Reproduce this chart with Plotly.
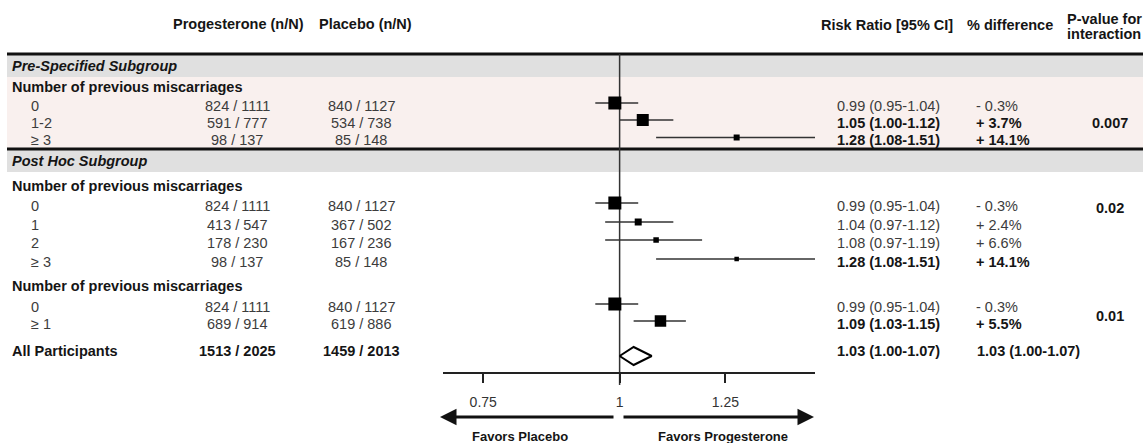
import math
import plotly.graph_objects as go

W, H = 1143, 443

# ---------------- data ----------------
col_headers = ["Progesterone (n/N)", "Placebo (n/N)", "Risk Ratio [95% CI]", "% difference"]
pval_header = ["P-value for", "interaction"]
section_labels = ["Pre-Specified Subgroup", "Post Hoc Subgroup"]
group_label = "Number of previous miscarriages"

row_labels = ["0", "1-2", "≥ 3", "0", "1", "2", "≥ 3", "0", "≥ 1"]
prog_nN = ["824 / 1111", "591 / 777", "98 / 137", "824 / 1111", "413 / 547",
           "178 / 230", "98 / 137", "824 / 1111", "689 / 914"]
plac_nN = ["840 / 1127", "534 / 738", "85 / 148", "840 / 1127", "367 / 502",
           "167 / 236", "85 / 148", "840 / 1127", "619 / 886"]
rr = [0.99, 1.05, 1.28, 0.99, 1.04, 1.08, 1.28, 0.99, 1.09]
rr_lo = [0.95, 1.00, 1.08, 0.95, 0.97, 0.97, 1.08, 0.95, 1.03]
rr_hi = [1.04, 1.12, 1.51, 1.04, 1.12, 1.19, 1.51, 1.04, 1.15]
rr_text = ["0.99 (0.95-1.04)", "1.05 (1.00-1.12)", "1.28 (1.08-1.51)",
           "0.99 (0.95-1.04)", "1.04 (0.97-1.12)", "1.08 (0.97-1.19)",
           "1.28 (1.08-1.51)", "0.99 (0.95-1.04)", "1.09 (1.03-1.15)"]
pct_diff = ["- 0.3%", "+ 3.7%", "+ 14.1%", "- 0.3%", "+ 2.4%", "+ 6.6%",
            "+ 14.1%", "- 0.3%", "+ 5.5%"]
row_bold = [False, True, True, False, False, False, True, False, True]
p_values = ["0.007", "0.02", "0.01"]

overall_label = "All Participants"
overall_prog = "1513 / 2025"
overall_plac = "1459 / 2013"
overall_rr, overall_lo, overall_hi = 1.03, 1.00, 1.07
overall_rr_text = "1.03 (1.00-1.07)"
overall_pct = "1.03 (1.00-1.07)"

tick_vals = [0.75, 1, 1.25]
tick_text = ["0.75", "1", "1.25"]
favors = ["Favors Placebo", "Favors Progesterone"]

# ---------------- layout (pixel positions) ----------------
marker_size = [13, 12, 6, 13, 7, 5.5, 4.5, 13, 11.5]
row_y = [103, 120, 137.5, 203, 222, 240, 259, 304, 321]
section_y = [66, 161]
group_y = [87, 186, 286]
pval_y = [123, 208, 316]
overall_y = 356
overall_text_y = 351
TXT_DY = 2.5

FONT = "Liberation Sans, Arial, sans-serif"
FS = 14.5
C_NORM = "#3c3c3c"
C_BOLD = "#151515"


def px(x):
    return x / W


annotations = []


def txt(x, y, s, anchor="left", bold=False, italic=False, size=FS, color=None):
    t = s
    if italic:
        t = "<i>" + t + "</i>"
    if bold:
        t = "<b>" + t + "</b>"
    annotations.append(dict(
        x=px(x), y=y, xref="paper", yref="y", text=t, showarrow=False,
        xanchor=anchor, yanchor="middle",
        font=dict(family=FONT, size=size, color=color or (C_BOLD if bold else C_NORM)),
    ))


# headers
txt(238, 24, col_headers[0], "center", bold=True)
txt(365, 24, col_headers[1], "center", bold=True)
txt(887, 25, col_headers[2], "center", bold=True)
txt(1010, 25, col_headers[3], "center", bold=True)
txt(1104, 19, pval_header[0], "center", bold=True)
txt(1104, 34, pval_header[1], "center", bold=True)

for s, y in zip(section_labels, section_y):
    txt(10, y, s, bold=True, italic=True)
for y in group_y:
    txt(10, y, group_label, bold=True)

for i in range(len(row_labels)):
    ty = row_y[i] + TXT_DY
    b = row_bold[i]
    txt(29, ty, row_labels[i])
    txt(237, ty, prog_nN[i], "center")
    txt(361, ty, plac_nN[i], "center")
    txt(835, ty, rr_text[i], bold=b)
    txt(974, ty, pct_diff[i], bold=b)

for s, y in zip(p_values, pval_y):
    txt(1110, y, s, "center", bold=True)

txt(10, overall_text_y, overall_label, bold=True)
txt(237, overall_text_y, overall_prog, "center", bold=True)
txt(361, overall_text_y, overall_plac, "center", bold=True)
txt(835, overall_text_y, overall_rr_text, bold=True)
txt(975, overall_text_y, overall_pct, bold=True)

# favors labels and arrows
txt(520, 436, favors[0], "center", bold=True, size=13)
txt(723, 436, favors[1], "center", bold=True, size=13)
for head_x, tail_dx in [(440, 175), (814, -192)]:
    annotations.append(dict(
        x=px(head_x), y=417, xref="paper", yref="y", ax=tail_dx, ay=0,
        text="", showarrow=True, arrowhead=2, arrowsize=1.1, arrowwidth=3,
        arrowcolor="#111",
    ))

# ---------------- shapes ----------------
shapes = []
GRAY = "#e0e0e0"
PINK = "#f9f0ee"
X0 = px(7)
shapes.append(dict(type="rect", xref="paper", yref="y", x0=X0, x1=1, y0=55, y1=77,
                   fillcolor=GRAY, line=dict(width=0), layer="below"))
shapes.append(dict(type="rect", xref="paper", yref="y", x0=X0, x1=1, y0=77, y1=148,
                   fillcolor=PINK, line=dict(width=0), layer="below"))
shapes.append(dict(type="rect", xref="paper", yref="y", x0=X0, x1=1, y0=150, y1=172,
                   fillcolor=GRAY, line=dict(width=0), layer="below"))
for y in [54, 149]:
    shapes.append(dict(type="line", xref="paper", yref="y", x0=X0, x1=1, y0=y, y1=y,
                       line=dict(color="#111", width=3), layer="below"))
# reference line at RR = 1
shapes.append(dict(type="line", xref="x", yref="y", x0=1, x1=1, y0=54, y1=385,
                   line=dict(color="#333", width=1.5), layer="below"))

# ---------------- traces ----------------
fig = go.Figure()

ci_x, ci_y = [], []
for lo, hi, y in zip(rr_lo, rr_hi, row_y):
    ci_x += [lo, hi, None]
    ci_y += [y, y, None]
fig.add_trace(go.Scatter(x=ci_x, y=ci_y, mode="lines",
                         line=dict(color="#333", width=1.3),
                         hoverinfo="skip", showlegend=False))

fig.add_trace(go.Scatter(x=rr, y=row_y, mode="markers",
                         marker=dict(symbol="square", size=marker_size, color="#000",
                                     opacity=1, line=dict(width=0)),
                         showlegend=False))

half_h = 9
fig.add_trace(go.Scatter(
    x=[overall_lo, overall_rr, overall_hi, overall_rr, overall_lo],
    y=[overall_y, overall_y - half_h, overall_y, overall_y + half_h, overall_y],
    mode="lines", fill="toself", fillcolor="white",
    line=dict(color="#000", width=2), showlegend=False, hoverinfo="skip"))

AX_L, AX_R = 443, 815
V_L, V_R = 0.689, 1.51

fig.update_layout(
    width=W, height=H, autosize=False,
    margin=dict(l=0, r=0, t=0, b=0),
    paper_bgcolor="white", plot_bgcolor="rgba(0,0,0,0)",
    font=dict(family=FONT, size=FS, color=C_NORM),
    showlegend=False,
    xaxis=dict(
        type="log", domain=[px(AX_L), px(AX_R)],
        range=[math.log10(V_L), math.log10(V_R)],
        anchor="free", position=(H - 373) / H,
        showline=True, linecolor="#222", linewidth=1.5,
        ticks="outside", ticklen=9, tickwidth=1.5, tickcolor="#222",
        tickvals=tick_vals, ticktext=tick_text,
        tickfont=dict(family=FONT, size=14, color="#333"),
        ticklabelstandoff=7,
        showgrid=False, zeroline=False, fixedrange=True,
    ),
    yaxis=dict(range=[H, 0], domain=[0, 1], visible=False, fixedrange=True),
    shapes=shapes,
    annotations=annotations,
)

fig.write_html("out.html")
